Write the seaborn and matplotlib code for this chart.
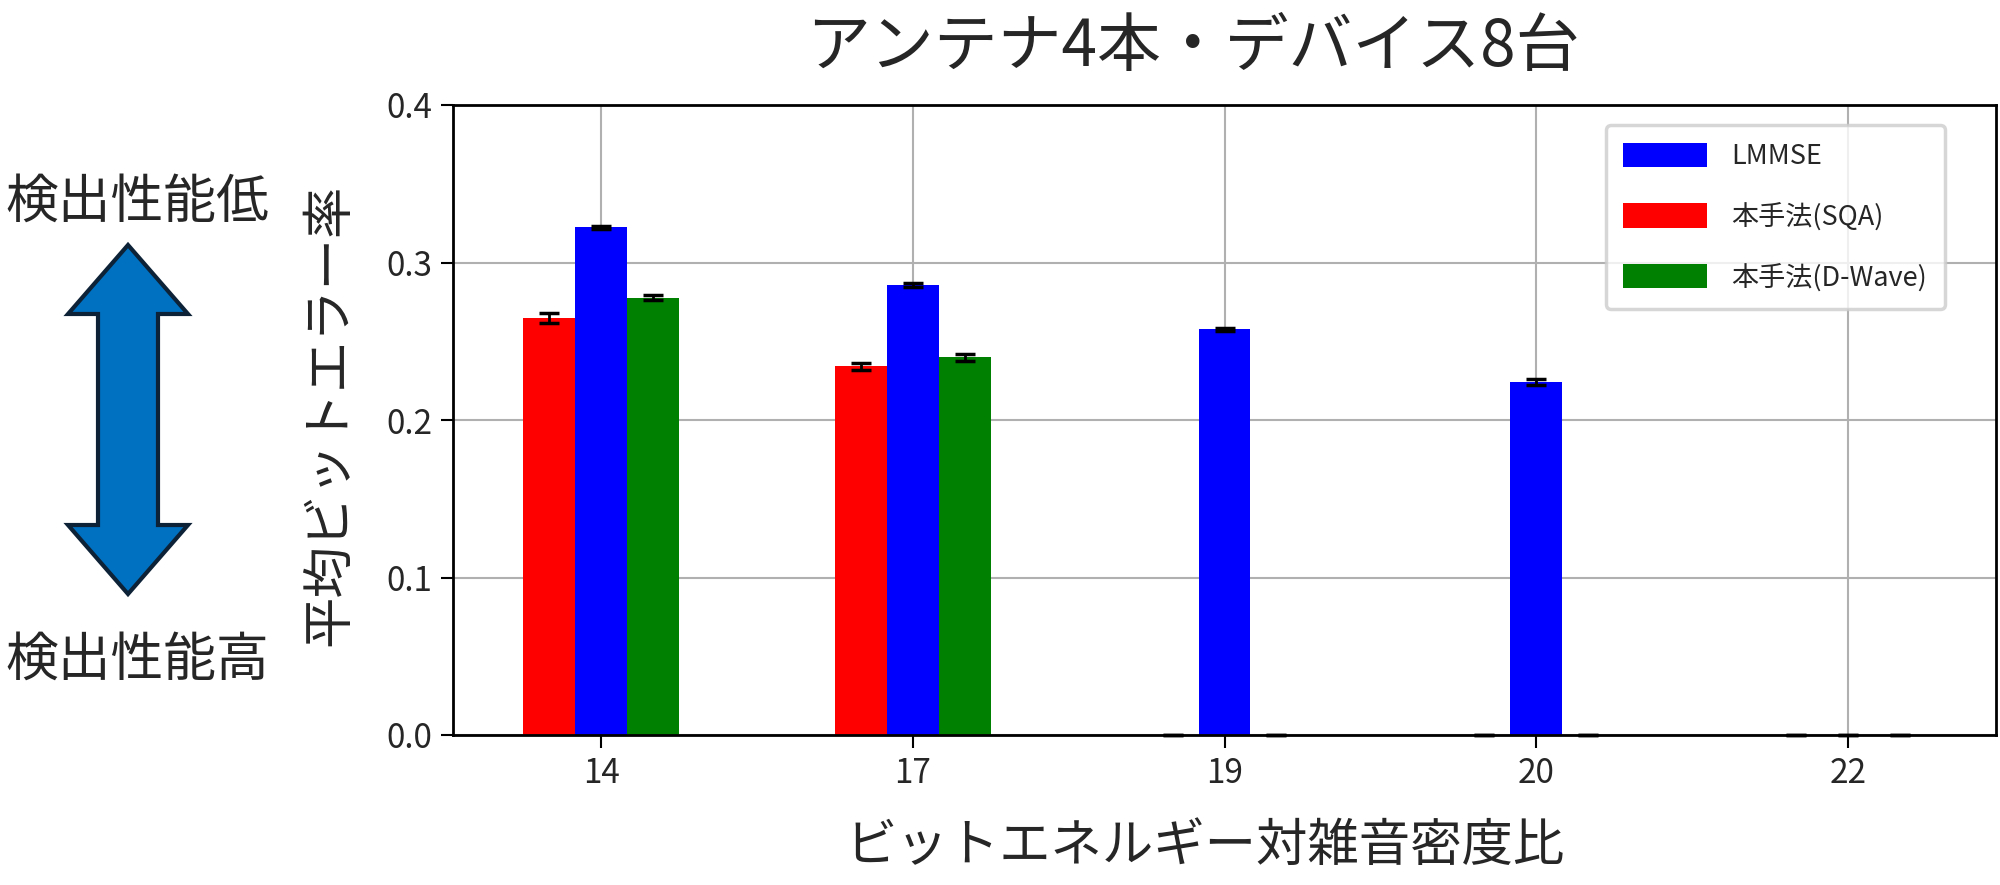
import numpy as np
import pandas as pd
import matplotlib
matplotlib.use("Agg")
import matplotlib.pyplot as plt
import seaborn as sns
from matplotlib.patches import Polygon

categories = ["14", "17", "19", "20", "22"]
lmmse = [0.3223, 0.2858, 0.2575, 0.2243, 0.0]
sqa = [0.2648, 0.2340, 0.0, 0.0, 0.0]
dwave = [0.2777, 0.2397, 0.0, 0.0, 0.0]
lmmse_err = [0.001, 0.0015, 0.001, 0.002, 0.0]
sqa_err = [0.003, 0.002, 0.0, 0.0, 0.0]
dwave_err = [0.0015, 0.002, 0.0, 0.0, 0.0]

names = ["LMMSE", "本手法(SQA)", "本手法(D-Wave)"]
colors = {"LMMSE": "#0000ff", "本手法(SQA)": "#ff0000", "本手法(D-Wave)": "#008000"}
hue_order = ["本手法(SQA)", "LMMSE", "本手法(D-Wave)"]

rows = []
for name, vals, errs in [(names[0], lmmse, lmmse_err), (names[1], sqa, sqa_err), (names[2], dwave, dwave_err)]:
    for c, v, e in zip(categories, vals, errs):
        rows.append({"snr": c, "ber": v, "err": e, "method": name})
df = pd.DataFrame(rows)

sns.set_style("white")
plt.rcParams["font.family"] = ["Noto Sans CJK JP", "DejaVu Sans"]

W, H = 2000, 885
fig = plt.figure(figsize=(20, 8.85), dpi=100)
ax = fig.add_axes([453 / W, (H - 735) / H, (1996 - 453) / W, (735 - 105) / H])

sns.barplot(data=df, x="snr", y="ber", hue="method", hue_order=hue_order,
            order=categories, palette=colors, width=0.5, gap=0, errorbar=None,
            saturation=1, ax=ax, linewidth=0)

for cont, name in zip(ax.containers, hue_order):
    sub = df[df.method == name].set_index("snr").loc[categories]
    xs = [p.get_x() + p.get_width() / 2 for p in cont.patches]
    hs = [p.get_height() for p in cont.patches]
    eb = ax.errorbar(xs, hs, yerr=sub["err"].values, fmt="none", ecolor="black",
                     elinewidth=2, capsize=7, capthick=2.5, zorder=5)
    for art in eb.lines[1]:
        art.set_clip_on(False)

ax.set_ylim(0, 0.4)
ax.set_yticks([0.0, 0.1, 0.2, 0.3, 0.4])
ax.set_yticklabels([f"{v:.1f}" for v in [0.0, 0.1, 0.2, 0.3, 0.4]])
ax.set_axisbelow(True)
ax.grid(True, color="#b0b0b0", linewidth=1.5)
for s in ax.spines.values():
    s.set_visible(True)
    s.set_color("black")
    s.set_linewidth(2)
ax.tick_params(axis="both", which="major", labelsize=24, length=9, width=1.5,
               direction="out", color="black", pad=6, bottom=True, left=True)
ax.set_xlabel("")
ax.set_ylabel("")

handles, labels = ax.get_legend_handles_labels()
hmap = dict(zip(labels, handles))
leg = ax.legend([hmap[n] for n in names], names, loc="upper right",
                bbox_to_anchor=(1 - 51 / 1543, 1 - 20 / 630), borderaxespad=0,
                fontsize=19.5, handlelength=3.1, handleheight=1.0,
                labelspacing=1.2, borderpad=0.65, handletextpad=0.9,
                frameon=True, fancybox=True)
leg.get_frame().set_edgecolor("#cccccc")
leg.get_frame().set_linewidth(2.5)

fig.text(1193 / W, 1 - 48 / H, "アンテナ4本・デバイス8台", ha="center", va="center", fontsize=46)
fig.text(1205 / W, 1 - 846 / H, "ビットエネルギー対雑音密度比", ha="center", va="center", fontsize=37)
fig.text(329 / W, 1 - 415 / H, "平均ビットエラー率", ha="center", va="center", fontsize=37, rotation=90)

fig.text(137 / W, 1 - 202 / H, "検出性能低", ha="center", va="center", fontsize=38)
fig.text(137 / W, 1 - 660 / H, "検出性能高", ha="center", va="center", fontsize=38)

cx, top, bot = 128, 245, 594
hw, sw, hl = 60, 30, 69
pts_px = [(cx, top), (cx + hw, top + hl), (cx + sw, top + hl), (cx + sw, bot - hl),
          (cx + hw, bot - hl), (cx, bot), (cx - hw, bot - hl), (cx - sw, bot - hl),
          (cx - sw, top + hl), (cx - hw, top + hl)]
pts = [(x / W, 1 - y / H) for x, y in pts_px]
fig.patches.append(Polygon(pts, closed=True, transform=fig.transFigure,
                           facecolor="#0070C0", edgecolor="#0d2236", linewidth=3,
                           joinstyle="miter"))

fig.savefig("out.png", dpi=100)
